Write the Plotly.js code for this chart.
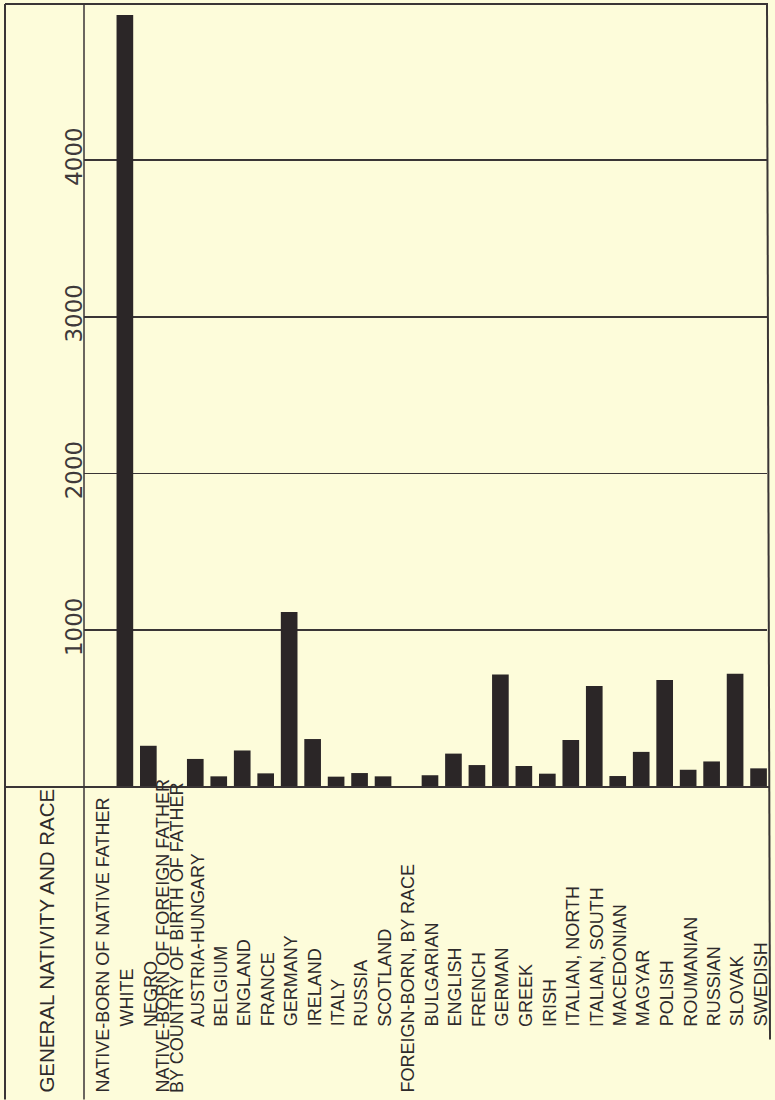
<!DOCTYPE html>
<html>
<head>
<meta charset="utf-8">
<script src="https://cdn.plot.ly/plotly-3.0.1.min.js"></script>
<style>
html,body{margin:0;padding:0;background:#fdfcda;}
#chart{width:775px;height:1100px;}
</style>
</head>
<body>
<div id="chart"></div>
<script>
// Categories in drawing order (group headers carry no bar)
const categories = [
  "NATIVE-BORN OF NATIVE FATHER",
  "WHITE",
  "NEGRO",
  "NATIVE-BORN OF FOREIGN FATHER<br>BY COUNTRY OF BIRTH OF FATHER",
  "AUSTRIA-HUNGARY",
  "BELGIUM",
  "ENGLAND",
  "FRANCE",
  "GERMANY",
  "IRELAND",
  "ITALY",
  "RUSSIA",
  "SCOTLAND",
  "FOREIGN-BORN, BY RACE",
  "BULGARIAN",
  "ENGLISH",
  "FRENCH",
  "GERMAN",
  "GREEK",
  "IRISH",
  "ITALIAN, NORTH",
  "ITALIAN, SOUTH",
  "MACEDONIAN",
  "MAGYAR",
  "POLISH",
  "ROUMANIAN",
  "RUSSIAN",
  "SLOVAK",
  "SWEDISH"
];
const groupHeaders = [
  "NATIVE-BORN OF NATIVE FATHER",
  "NATIVE-BORN OF FOREIGN FATHER<br>BY COUNTRY OF BIRTH OF FATHER",
  "FOREIGN-BORN, BY RACE"
];
const values = [
  null, 4925, 263,
  null, 179, 68, 233, 87, 1116, 306, 66, 89, 68,
  null, 75, 213, 140, 717, 134, 85, 300, 644, 70, 224, 683, 110, 163, 723, 119
];
const tickValues = [1000, 2000, 3000, 4000];
const tickLabels = ["1000", "2000", "3000", "4000"];
const stubTitle = "GENERAL NATIVITY AND RACE";

// ---- layout helpers (pixels of the 775x1100 page) ----
const W = 775, H = 1100;
const plotL = 84, plotR = 767, plotT = 4, plotB = 787.3;
const pw = plotR - plotL, ph = plotB - plotT;
const px2x = p => (p - plotL) / pw;
const px2y = p => (plotB - p) / ph;

const ink = "#2b2627";
const lineCol = "#3a3536";
const bg = "#fdfcda";
const labelFont = {family: "Liberation Sans, Arial, sans-serif", size: 18, color: "#2e2a2b"};

const trace = {
  type: "bar",
  x: categories,
  y: values,
  width: 0.71,
  marker: {color: ink, line: {width: 0}},
  hoverinfo: "x+y"
};

const annotations = [];
categories.forEach(c => {
  const isHeader = groupHeaders.includes(c);
  const lines = c.split("<br>");
  const step = 13;
  lines.forEach((ln, i) => {
    const off = (i - (lines.length - 1) / 2) * step + (lines.length > 1 ? -2 : 2);
    annotations.push({
      x: c, xref: "x",
      y: px2y(isHeader ? 1094 : 1028), yref: "paper",
      text: ln,
      textangle: -90,
      xanchor: "center", yanchor: "bottom",
      showarrow: false,
      xshift: off,
      borderpad: 0,
      font: labelFont
    });
  });
});
annotations.push({
  x: px2x(47), xref: "paper",
  y: px2y(1094), yref: "paper",
  text: stubTitle,
  textangle: -90,
  xanchor: "center", yanchor: "bottom",
  showarrow: false,
  borderpad: 0,
  font: {family: "Liberation Sans, Arial, sans-serif", size: 20.5, color: "#2e2a2b"}
});

const lineStyle = {color: lineCol, width: 2};
const shapes = [
  // outer frame
  {type: "line", xref: "paper", yref: "paper", x0: px2x(5), x1: px2x(5), y0: px2y(4), y1: px2y(1100), line: lineStyle},
  {type: "line", xref: "paper", yref: "paper", x0: px2x(5), x1: px2x(768), y0: px2y(4), y1: px2y(4), line: lineStyle},
  {type: "line", xref: "paper", yref: "paper", x0: px2x(767), x1: px2x(770), y0: px2y(4), y1: px2y(1040), line: lineStyle},
  // stub divider
  {type: "line", xref: "paper", yref: "paper", x0: px2x(84), x1: px2x(84), y0: px2y(4), y1: px2y(1100), line: {color: lineCol, width: 1.5}},
  // baseline rule
  {type: "line", xref: "paper", yref: "paper", x0: px2x(5), x1: px2x(770), y0: 0, y1: 0, line: lineStyle}
];

const layout = {
  width: W, height: H,
  margin: {l: plotL, r: W - plotR, t: plotT, b: H - plotB, pad: 0},
  paper_bgcolor: bg,
  plot_bgcolor: bg,
  showlegend: false,
  bargap: 0.3,
  xaxis: {
    type: "category",
    categoryorder: "array",
    categoryarray: categories,
    range: [(plotL - 101.4) / 23.47, (plotR - 101.4) / 23.47],
    showticklabels: false,
    ticks: "",
    showgrid: false,
    zeroline: false,
    showline: false,
    fixedrange: true
  },
  yaxis: {
    range: [0, (plotB - plotT) / 0.1568],
    tickvals: tickValues,
    ticktext: tickLabels,
    tickangle: -90,
    ticks: "",
    ticklabelstandoff: -4,
    tickfont: {family: "DejaVu Sans, sans-serif", size: 23, color: "#3e393a"},
    showgrid: true,
    gridcolor: lineCol,
    gridwidth: 1.6,
    zeroline: false,
    showline: false,
    fixedrange: true
  },
  annotations: annotations,
  shapes: shapes
};

Plotly.newPlot("chart", [trace], layout, {displayModeBar: false, staticPlot: true});
</script>
</body>
</html>
